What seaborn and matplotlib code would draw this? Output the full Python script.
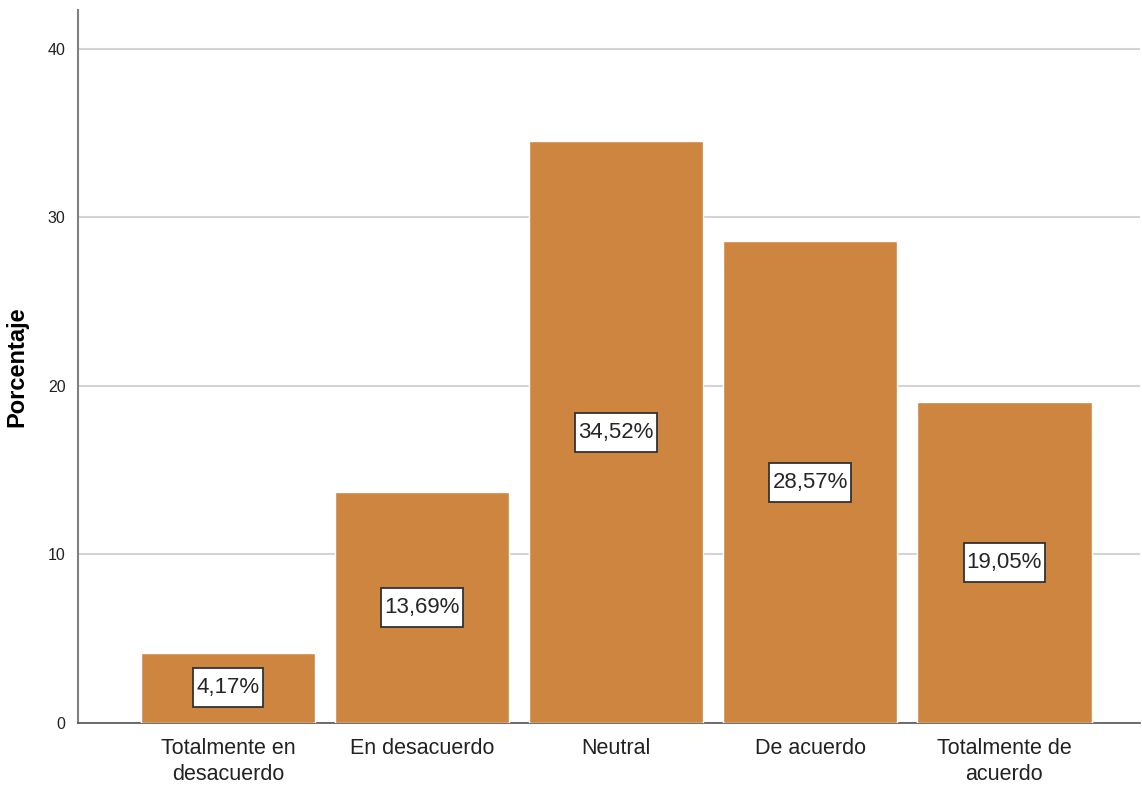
import matplotlib
matplotlib.use("Agg")
import matplotlib.pyplot as plt
from matplotlib.path import Path
import seaborn as sns
import pandas as pd

categories = ["Totalmente en\ndesacuerdo", "En desacuerdo", "Neutral", "De acuerdo", "Totalmente de\nacuerdo"]
percentages = [4.17, 13.69, 34.52, 28.57, 19.05]
value_labels = ["4,17%", "13,69%", "34,52%", "28,57%", "19,05%"]
y_ticks = [0, 10, 20, 30, 40]

sns.set_style("white")
plt.rcParams["font.family"] = ["Liberation Sans", "DejaVu Sans"]


def tall_box(x0, y0, width, height, mutation_size):
    # label box: little padding on the sides, more above and below
    px, py = 3, 9
    x0, y0 = x0 - px, y0 - py
    x1, y1 = x0 + width + 2 * px, y0 + height + 2 * py
    return Path([(x0, y0), (x1, y0), (x1, y1), (x0, y1), (x0, y0)], closed=True)


df = pd.DataFrame({"cat": categories, "pct": percentages})

fig = plt.figure(figsize=(11.42, 7.94), dpi=100)
ax = fig.add_axes([0.0683, 0.0894, 0.93, 0.898])

sns.barplot(data=df, x="cat", y="pct", color="#cd853f", saturation=1,
            width=0.9, ax=ax, zorder=3)

# gridlines
ax.set_yticks(y_ticks)
ax.yaxis.grid(True, color="#d4d4d4", linewidth=1.5, zorder=0)
ax.set_axisbelow(True)
ax.set_ylim(0, 42.3)
ax.set_xlim(-0.773, 4.70)

for i, (v, lab) in enumerate(zip(percentages, value_labels)):
    ax.text(i, v / 2, lab, ha="center", va="center", fontsize=16, zorder=5,
            bbox=dict(boxstyle=tall_box, fc="white", ec="#333333", lw=1.3))

ax.set_xlabel("")
ax.set_ylabel("Porcentaje", fontsize=17, fontweight="bold", labelpad=14, color="black")
ax.tick_params(axis="x", labelsize=15.5, length=0, pad=11, labelcolor="#222222")
ax.tick_params(axis="y", labelsize=11.5, length=0, pad=9, labelcolor="#222222")
for t in ax.get_xticklabels():
    t.set_linespacing(1.3)

for s in ["top", "right"]:
    ax.spines[s].set_visible(False)
ax.spines["left"].set_color("#808080")
ax.spines["left"].set_linewidth(1.5)
ax.spines["bottom"].set_color("#555555")
ax.spines["bottom"].set_linewidth(1.2)

plt.savefig("out.png", dpi=100)
